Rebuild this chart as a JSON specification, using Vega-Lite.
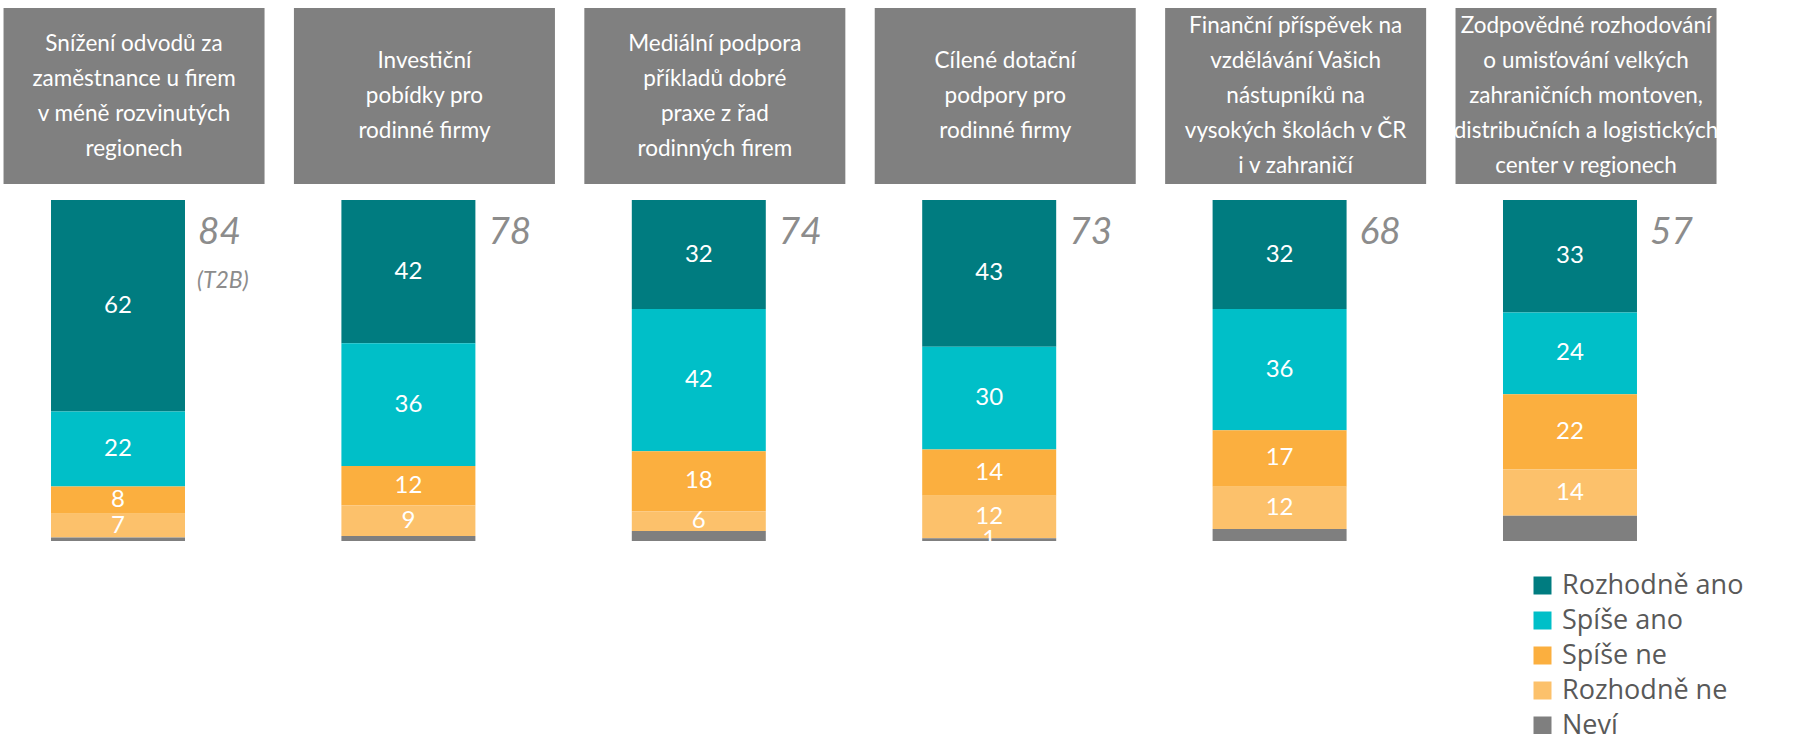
{
  "$schema": "https://vega.github.io/schema/vega-lite/v6.json",
  "padding": {"left": 0, "top": 8, "right": 0, "bottom": 0},
  "autosize": {"type": "pad"},
  "background": "white",
  "spacing": 16,
  "config": {"view": {"stroke": null}},
  "datasets": {
    "titles": [
      {"item": "Snížení odvodů za zaměstnance u firem v méně rozvinutých regionech", "lines": ["Snížení odvodů za", "zaměstnance u firem", "v méně rozvinutých", "regionech"]},
      {"item": "Investiční pobídky pro rodinné firmy", "lines": ["Investiční", "pobídky pro", "rodinné firmy"]},
      {"item": "Mediální podpora příkladů dobré praxe z řad rodinných firem", "lines": ["Mediální podpora", "příkladů dobré", "praxe z řad", "rodinných firem"]},
      {"item": "Cílené dotační podpory pro rodinné firmy", "lines": ["Cílené dotační", "podpory pro", "rodinné firmy"]},
      {"item": "Finanční příspěvek na vzdělávání Vašich nástupníků na vysokých školách v ČR i v zahraničí", "lines": ["Finanční příspěvek na", "vzdělávání Vašich", "nástupníků na", "vysokých školách v ČR", "i v zahraničí"]},
      {"item": "Zodpovědné rozhodování o umisťování velkých zahraničních montoven, distribučních a logistických center v regionech", "lines": ["Zodpovědné rozhodování", "o umisťování velkých", "zahraničních montoven,", "distribučních a logistických", "center v regionech"]}
    ],
    "answers": [
      {"item": "Snížení odvodů za zaměstnance u firem v méně rozvinutých regionech", "series": "Rozhodně ano", "k": 5, "value": 62, "label": "62"},
      {"item": "Snížení odvodů za zaměstnance u firem v méně rozvinutých regionech", "series": "Spíše ano", "k": 4, "value": 22, "label": "22"},
      {"item": "Snížení odvodů za zaměstnance u firem v méně rozvinutých regionech", "series": "Spíše ne", "k": 3, "value": 8, "label": "8"},
      {"item": "Snížení odvodů za zaměstnance u firem v méně rozvinutých regionech", "series": "Rozhodně ne", "k": 2, "value": 7, "label": "7"},
      {"item": "Snížení odvodů za zaměstnance u firem v méně rozvinutých regionech", "series": "Neví", "k": 1, "value": 1, "label": ""},
      {"item": "Investiční pobídky pro rodinné firmy", "series": "Rozhodně ano", "k": 5, "value": 42, "label": "42"},
      {"item": "Investiční pobídky pro rodinné firmy", "series": "Spíše ano", "k": 4, "value": 36, "label": "36"},
      {"item": "Investiční pobídky pro rodinné firmy", "series": "Spíše ne", "k": 3, "value": 11.5, "label": "12"},
      {"item": "Investiční pobídky pro rodinné firmy", "series": "Rozhodně ne", "k": 2, "value": 9, "label": "9"},
      {"item": "Investiční pobídky pro rodinné firmy", "series": "Neví", "k": 1, "value": 1.5, "label": ""},
      {"item": "Mediální podpora příkladů dobré praxe z řad rodinných firem", "series": "Rozhodně ano", "k": 5, "value": 32, "label": "32"},
      {"item": "Mediální podpora příkladů dobré praxe z řad rodinných firem", "series": "Spíše ano", "k": 4, "value": 41.7, "label": "42"},
      {"item": "Mediální podpora příkladů dobré praxe z řad rodinných firem", "series": "Spíše ne", "k": 3, "value": 17.6, "label": "18"},
      {"item": "Mediální podpora příkladů dobré praxe z řad rodinných firem", "series": "Rozhodně ne", "k": 2, "value": 5.8, "label": "6"},
      {"item": "Mediální podpora příkladů dobré praxe z řad rodinných firem", "series": "Neví", "k": 1, "value": 2.9, "label": ""},
      {"item": "Cílené dotační podpory pro rodinné firmy", "series": "Rozhodně ano", "k": 5, "value": 43, "label": "43"},
      {"item": "Cílené dotační podpory pro rodinné firmy", "series": "Spíše ano", "k": 4, "value": 30.2, "label": "30"},
      {"item": "Cílené dotační podpory pro rodinné firmy", "series": "Spíše ne", "k": 3, "value": 13.5, "label": "14"},
      {"item": "Cílené dotační podpory pro rodinné firmy", "series": "Rozhodně ne", "k": 2, "value": 12.5, "label": "12"},
      {"item": "Cílené dotační podpory pro rodinné firmy", "series": "Neví", "k": 1, "value": 0.8, "label": "1"},
      {"item": "Finanční příspěvek na vzdělávání Vašich nástupníků na vysokých školách v ČR i v zahraničí", "series": "Rozhodně ano", "k": 5, "value": 32, "label": "32"},
      {"item": "Finanční příspěvek na vzdělávání Vašich nástupníků na vysokých školách v ČR i v zahraničí", "series": "Spíše ano", "k": 4, "value": 35.5, "label": "36"},
      {"item": "Finanční příspěvek na vzdělávání Vašich nástupníků na vysokých školách v ČR i v zahraničí", "series": "Spíše ne", "k": 3, "value": 16.6, "label": "17"},
      {"item": "Finanční příspěvek na vzdělávání Vašich nástupníků na vysokých školách v ČR i v zahraničí", "series": "Rozhodně ne", "k": 2, "value": 12.4, "label": "12"},
      {"item": "Finanční příspěvek na vzdělávání Vašich nástupníků na vysokých školách v ČR i v zahraničí", "series": "Neví", "k": 1, "value": 3.5, "label": ""},
      {"item": "Zodpovědné rozhodování o umisťování velkých zahraničních montoven, distribučních a logistických center v regionech", "series": "Rozhodně ano", "k": 5, "value": 33, "label": "33"},
      {"item": "Zodpovědné rozhodování o umisťování velkých zahraničních montoven, distribučních a logistických center v regionech", "series": "Spíše ano", "k": 4, "value": 24, "label": "24"},
      {"item": "Zodpovědné rozhodování o umisťování velkých zahraničních montoven, distribučních a logistických center v regionech", "series": "Spíše ne", "k": 3, "value": 22, "label": "22"},
      {"item": "Zodpovědné rozhodování o umisťování velkých zahraničních montoven, distribučních a logistických center v regionech", "series": "Rozhodně ne", "k": 2, "value": 13.6, "label": "14"},
      {"item": "Zodpovědné rozhodování o umisťování velkých zahraničních montoven, distribučních a logistických center v regionech", "series": "Neví", "k": 1, "value": 7.4, "label": ""}
    ],
    "notes": [
      {"item": "Snížení odvodů za zaměstnance u firem v méně rozvinutých regionech", "note": "(T2B)"}
    ]
  },
  "vconcat": [
    {
      "width": 1814,
      "height": 176,
      "data": {"name": "titles"},
      "transform": [{"calculate": "length(datum.lines)", "as": "n"}],
      "encoding": {
        "x": {"field": "item", "type": "nominal", "sort": null, "axis": null,
              "scale": {"type": "band", "paddingInner": 0.1012, "paddingOuter": 0.1739, "align": 0.035}}
      },
      "layer": [
        {"mark": {"type": "bar", "color": "#808080"}},
        {"mark": {"type": "text", "color": "white", "font": "Lato", "fontSize": 22.5, "lineHeight": 35, "baseline": "middle", "align": "center"},
         "encoding": {
           "y": {"field": "n", "type": "quantitative", "axis": null, "scale": {"domain": [-4.029, 6.029], "nice": false, "zero": false}},
           "text": {"field": "lines"}
         }}
      ]
    },
    {
      "width": 1814,
      "height": 341,
      "layer": [
        {
          "data": {"name": "answers"},
          "mark": {"type": "bar", "orient": "vertical"},
          "encoding": {
            "x": {"field": "item", "type": "nominal", "sort": null, "axis": null,
                  "scale": {"type": "band", "paddingInner": 0.5386, "paddingOuter": 0.3926, "align": 0.2237}},
            "y": {"field": "value", "type": "quantitative", "stack": "zero", "axis": null, "scale": {"domain": [0, 100], "nice": false}},
            "order": {"field": "k", "type": "quantitative", "sort": "ascending"},
            "color": {"field": "series", "type": "nominal",
                      "scale": {"domain": ["Rozhodně ano", "Spíše ano", "Spíše ne", "Rozhodně ne", "Neví"],
                                "range": ["#007C80", "#00BFC8", "#FBAF3F", "#FCC16B", "#7F7F7F"]},
                      "legend": {"title": null, "orient": "none", "legendX": 1529, "legendY": 564, "symbolType": "square", "symbolSize": 324,
                                 "symbolStrokeWidth": 0, "labelFont": "Open Sans", "labelFontSize": 27, "labelColor": "#595959",
                                 "labelOffset": 6, "rowPadding": 7, "padding": 0, "labelLimit": 400}}
          }
        },
        {
          "data": {"name": "answers"},
          "mark": {"type": "text", "color": "white", "font": "Lato", "fontSize": 24, "baseline": "middle", "align": "center", "clip": true},
          "encoding": {
            "x": {"field": "item", "type": "nominal", "sort": null},
            "y": {"field": "value", "type": "quantitative", "stack": "zero", "bandPosition": 0.5},
            "order": {"field": "k", "type": "quantitative", "sort": "ascending"},
            "text": {"field": "label"}
          }
        },
        {
          "data": {"name": "answers"},
          "transform": [
            {"filter": {"field": "series", "oneOf": ["Rozhodně ano", "Spíše ano"]}},
            {"aggregate": [{"op": "sum", "field": "value", "as": "t2b"}], "groupby": ["item"]}
          ],
          "mark": {"type": "text", "color": "#8C8C8C", "font": "Lato", "fontStyle": "italic", "fontSize": 37, "baseline": "alphabetic", "align": "left", "dx": 13, "dy": 44},
          "encoding": {
            "x": {"field": "item", "type": "nominal", "sort": null, "bandPosition": 1},
            "y": {"datum": 100},
            "text": {"field": "t2b", "type": "quantitative", "format": ".0f"}
          }
        },
        {
          "data": {"name": "notes"},
          "mark": {"type": "text", "color": "#8C8C8C", "font": "Lato", "fontStyle": "italic", "fontSize": 23, "baseline": "alphabetic", "align": "left", "dx": 12, "dy": 88},
          "encoding": {
            "x": {"field": "item", "type": "nominal", "sort": null, "bandPosition": 1},
            "y": {"datum": 100},
            "text": {"field": "note"}
          }
        }
      ]
    }
  ]
}
